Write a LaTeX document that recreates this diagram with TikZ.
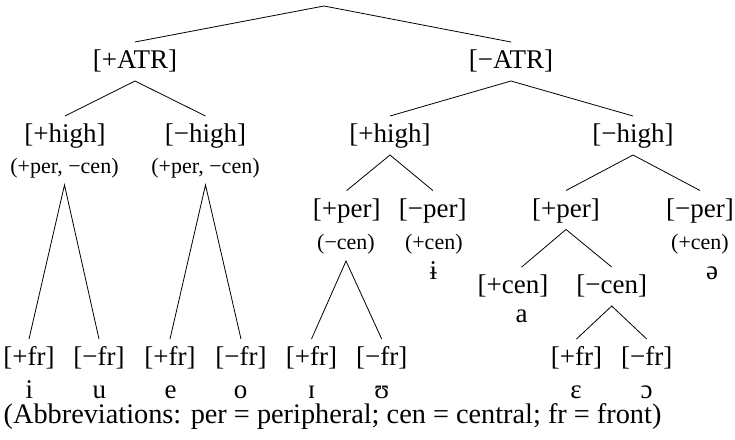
\documentclass[tikz,border=0pt]{standalone}
\usepackage{fontspec}
\setmainfont{Liberation Serif}
\begin{document}
\begin{tikzpicture}[x=1pt,y=-1pt]
\tikzset{
  feat/.style={font=\fontsize{27}{30}\selectfont, inner sep=0pt, outer ysep=7.5pt,
               text height=19pt, text depth=5pt, anchor=base},
  note/.style={font=\fontsize{22}{25}\selectfont, inner sep=0pt, outer ysep=7.5pt,
               text height=15.5pt, text depth=4.5pt, anchor=base},
  seg/.style={font=\fontsize{27}{30}\selectfont, inner sep=0pt, anchor=base},
  keytext/.style={font=\fontsize{28.3}{31}\selectfont, inner sep=0pt, anchor=base west},
  branch/.style={draw=black, line width=0.8pt}
}
\useasboundingbox (0,0) rectangle (735,439);

% root and ATR level
\coordinate (root) at (324,6);
\node[feat] (atrp) at (135,68.5) {[+ATR]};
\node[feat] (atrm) at (511,68.5) {[−ATR]};

% height level
\node[feat] (hipL) at (65,142.5)  {[+high]};
\node[feat] (himL) at (205.5,142.5) {[−high]};
\node[feat] (hipR) at (390,142.5) {[+high]};
\node[feat] (himR) at (633,142.5) {[−high]};
\node[note] (nA) at (64.5,173)  {(+per, −cen)};
\node[note] (nB) at (205.5,173) {(+per, −cen)};

% peripheral level
\node[feat] (perpA) at (346.7,217) {[+per]};
\node[feat] (permA) at (432.8,217) {[−per]};
\node[feat] (perpB) at (566,217) {[+per]};
\node[feat] (permB) at (700,217) {[−per]};
\node[note] (nC) at (346,249) {(−cen)};
\node[note] (nD) at (433.8,249) {(+cen)};
\node[note] (nE) at (700,249) {(+cen)};
\node[seg] (vbi) at (433.3,279) {ɨ};
\node[seg] (vsw) at (712,279) {ə};

% central level
\node[feat] (cenp) at (513,293.5) {[+cen]};
\node[feat] (cenm) at (611.7,293.5) {[−cen]};
\node[seg] (va) at (521.7,322) {a};

% front level
\node[feat] (f1) at (29,365.5)    {[+fr]};
\node[feat] (f2) at (99,365.5)    {[−fr]};
\node[feat] (f3) at (170,365.5)   {[+fr]};
\node[feat] (f4) at (241,365.5)   {[−fr]};
\node[feat] (f5) at (311.5,365.5) {[+fr]};
\node[feat] (f6) at (381.7,365.5) {[−fr]};
\node[feat] (f7) at (576.5,365.5) {[+fr]};
\node[feat] (f8) at (646.7,365.5) {[−fr]};

% vowels
\node[seg] (v1) at (29.3,398)  {i};
\node[seg] (v2) at (99.3,398)  {u};
\node[seg] (v3) at (170.7,398) {e};
\node[seg] (v4) at (240.7,398) {o};
\node[seg] (v5) at (311.7,398) {ɪ};
\node[seg] (v6) at (381.7,398) {ʊ};
\node[seg] (v7) at (576,398)   {ɛ};
\node[seg] (v8) at (646.7,398) {ɔ};

% key to abbreviations
\node[keytext] (key) at (3.5,423.5)
  {(Abbreviations: per = peripheral; cen = central; fr = front)};

% branches
\draw[branch] (atrp.north) -- (root) -- (atrm.north);
\draw[branch] (hipL.north) -- (atrp.south) -- (himL.north);
\draw[branch] (hipR.north) -- (atrm.south) -- (himR.north);
\draw[branch] (f1.north) -- (nA.south) -- (f2.north);
\draw[branch] (f3.north) -- (nB.south) -- (f4.north);
\draw[branch] (perpA.north) -- (hipR.south) -- (permA.north);
\draw[branch] (perpB.north) -- (himR.south) -- (permB.north);
\draw[branch] (f5.north) -- (nC.south) -- (f6.north);
\draw[branch] (va |- cenp.north) -- (perpB.south) -- (cenm.north);
\draw[branch] (f7.north) -- (cenm.south) -- (f8.north);
\end{tikzpicture}
\end{document}
